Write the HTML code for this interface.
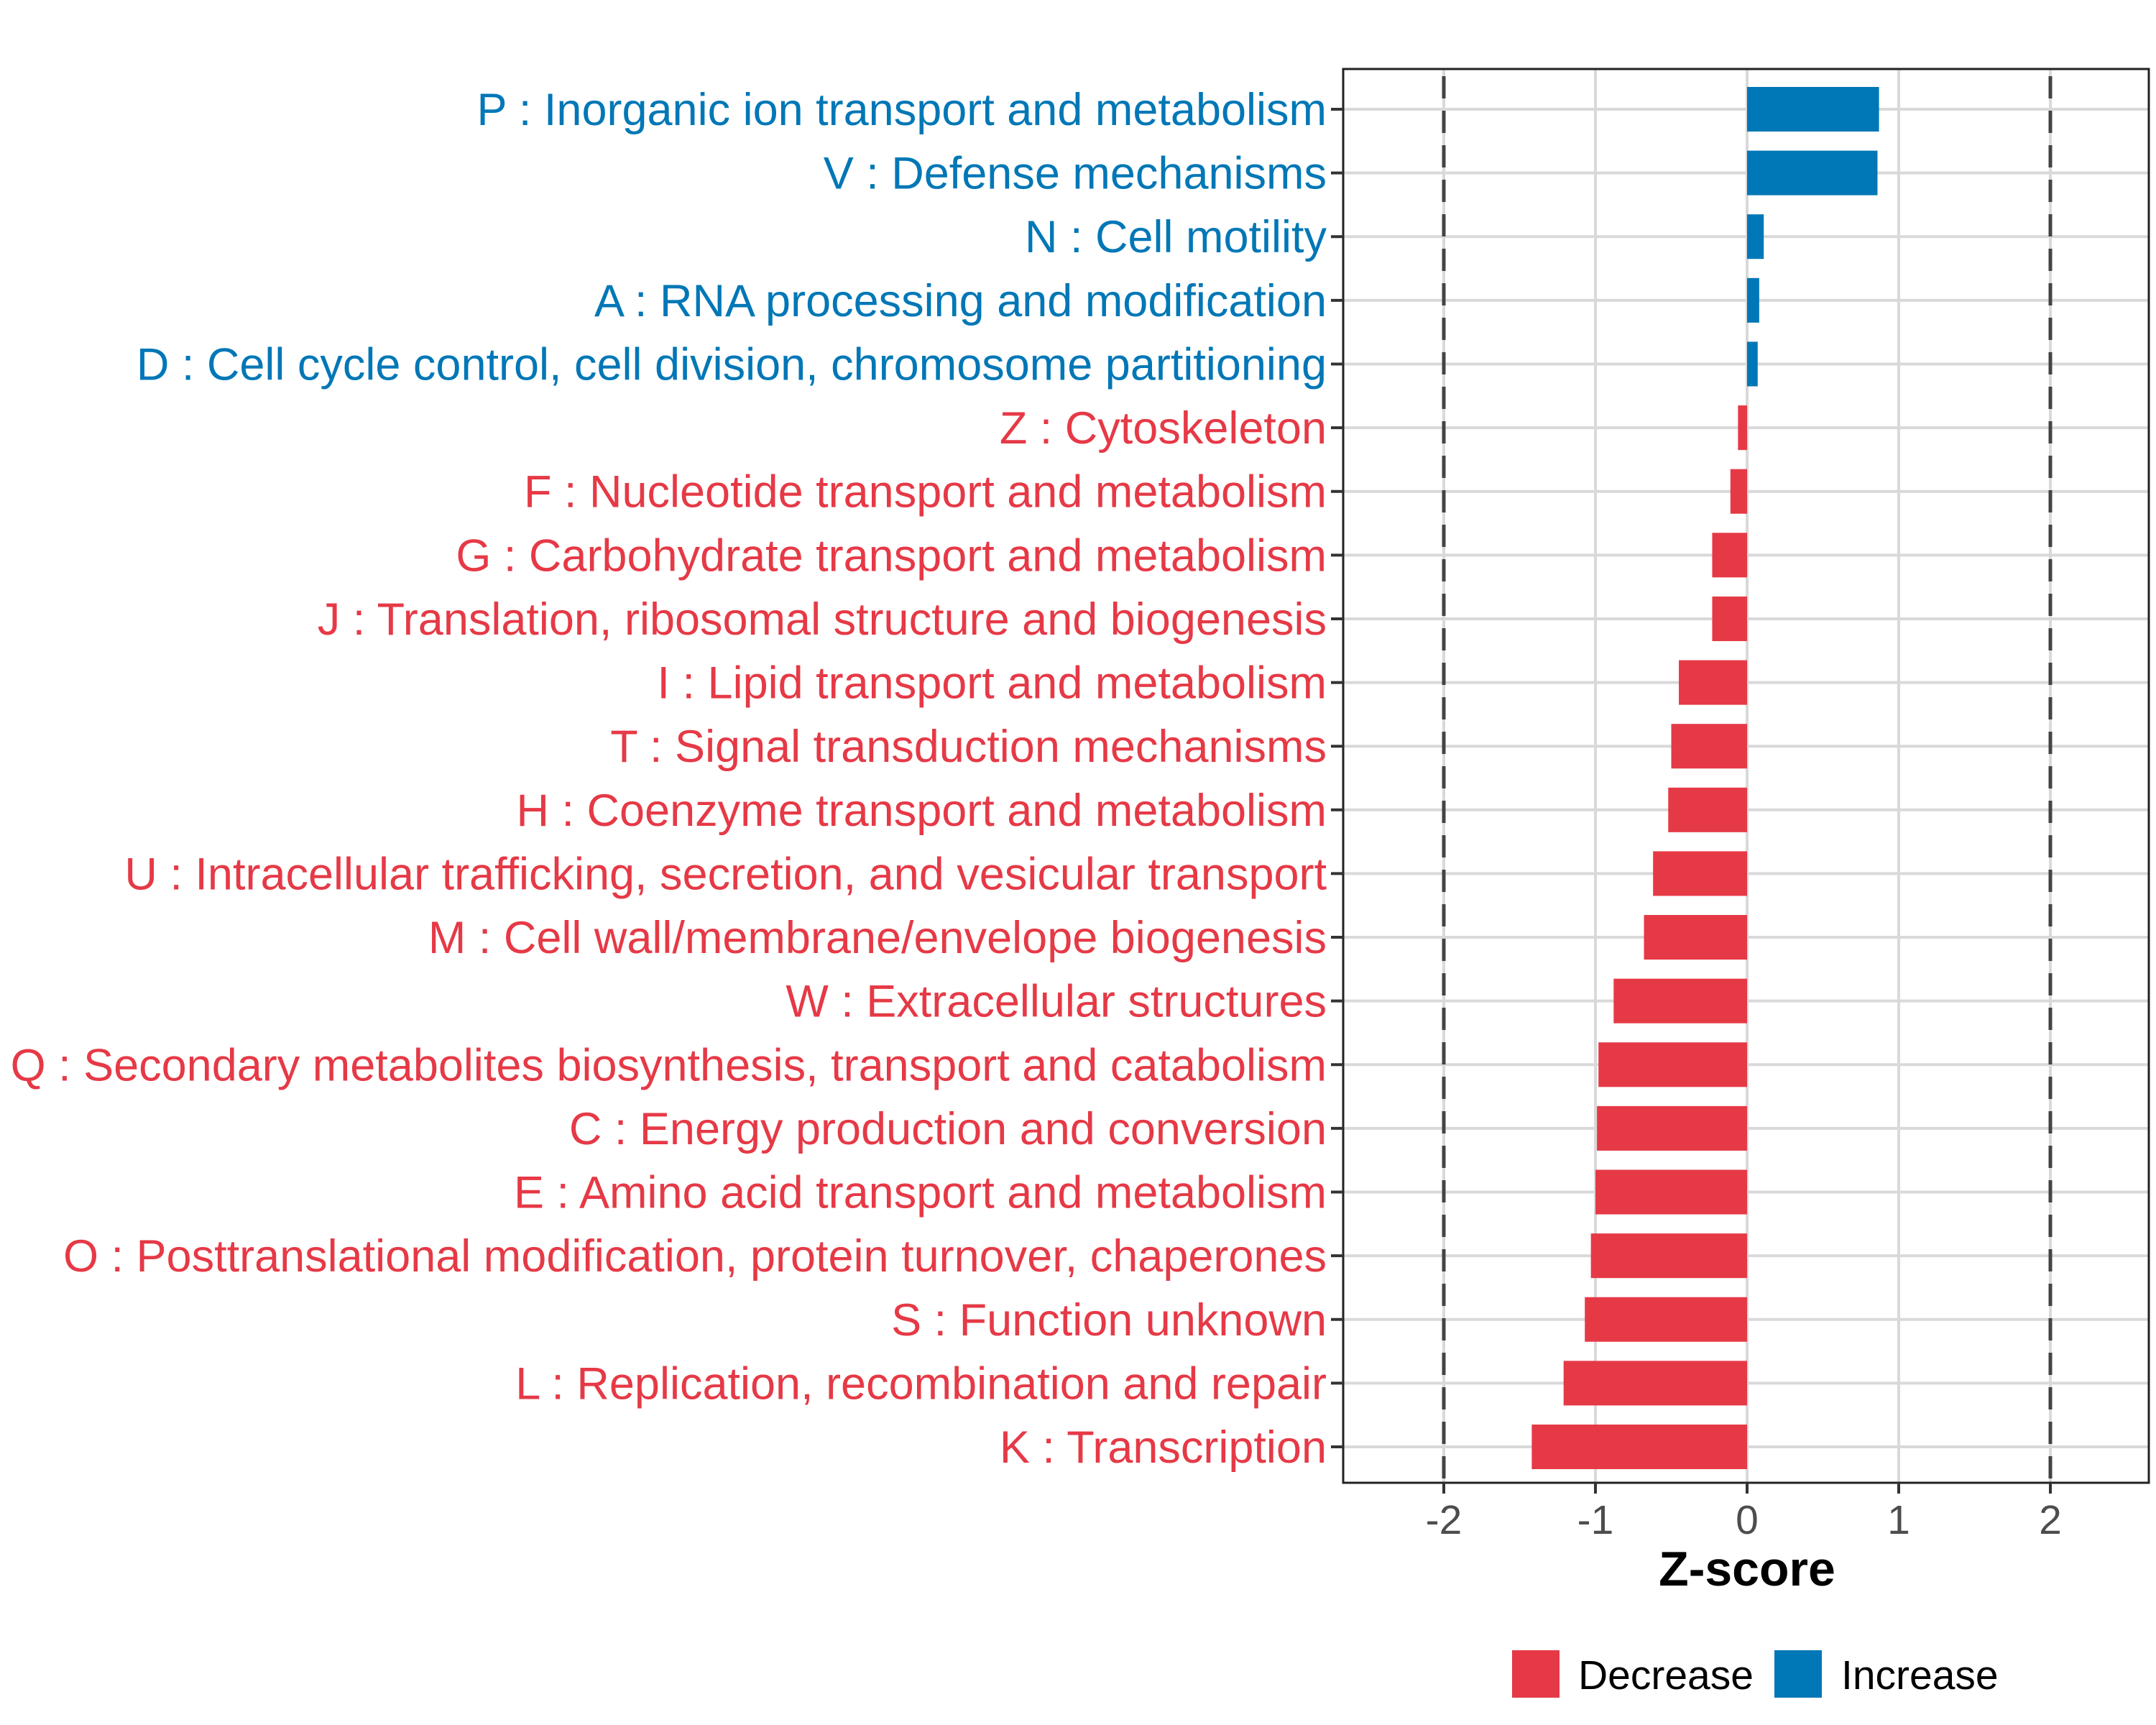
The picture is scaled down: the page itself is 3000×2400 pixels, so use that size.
<!DOCTYPE html>
<html><head><meta charset="utf-8"><style>
html,body{margin:0;padding:0;background:#fff;}
svg{display:block;font-family:"Liberation Sans",Arial,sans-serif;}
</style></head><body>
<svg id="chart" width="3000" height="2400" viewBox="0 0 3000 2400" xmlns="http://www.w3.org/2000/svg">
<rect width="3000" height="2400" fill="#fff"/>
<g id="grid"></g>
<g id="bars"></g>
<g id="refs"></g>
<rect x="1869" y="96" width="1121" height="1967" fill="none" stroke="#222" stroke-width="3"/>
<g id="ylabels"></g>
<g id="xaxis"></g>
<text x="2431" y="2206" font-size="68" font-weight="bold" text-anchor="middle" fill="#000">Z-score</text>
<g>
<rect x="2104" y="2296" width="66" height="66" fill="#E63946"/>
<text x="2196" y="2350" font-size="57" fill="#000">Decrease</text>
<rect x="2469" y="2296" width="66" height="66" fill="#0077B6"/>
<text x="2562" y="2350" font-size="57" fill="#000">Increase</text>
</g>
</svg>
<script>
const categories = [
"P : Inorganic ion transport and metabolism",
"V : Defense mechanisms",
"N : Cell motility",
"A : RNA processing and modification",
"D : Cell cycle control, cell division, chromosome partitioning",
"Z : Cytoskeleton",
"F : Nucleotide transport and metabolism",
"G : Carbohydrate transport and metabolism",
"J : Translation, ribosomal structure and biogenesis",
"I : Lipid transport and metabolism",
"T : Signal transduction mechanisms",
"H : Coenzyme transport and metabolism",
"U : Intracellular trafficking, secretion, and vesicular transport",
"M : Cell wall/membrane/envelope biogenesis",
"W : Extracellular structures",
"Q : Secondary metabolites biosynthesis, transport and catabolism",
"C : Energy production and conversion",
"E : Amino acid transport and metabolism",
"O : Posttranslational modification, protein turnover, chaperones",
"S : Function unknown",
"L : Replication, recombination and repair",
"K : Transcription"];
const zscores = [0.87,0.86,0.11,0.08,0.07,-0.06,-0.11,-0.23,-0.23,-0.45,-0.50,-0.52,-0.62,-0.68,-0.88,-0.98,-0.99,-1.00,-1.03,-1.07,-1.21,-1.42];
const xTicks = [-2,-1,0,1,2];
const xTickLabels = ["-2","-1","0","1","2"];
const refValues = [-2,2];

const NS="http://www.w3.org/2000/svg";
const X0=2431, XU=211, Y0=152, DY=(2013-152)/21, PL=1869, PR=2990, PT=96, PB=2063;
const xs=v=>X0+v*XU, ys=i=>Y0+i*DY;
function mk(tag,attrs,parent){const e=document.createElementNS(NS,tag);for(const k in attrs)e.setAttribute(k,attrs[k]);parent.appendChild(e);return e;}
const grid=document.getElementById('grid'),bars=document.getElementById('bars'),refs=document.getElementById('refs'),yl=document.getElementById('ylabels'),xa=document.getElementById('xaxis');
categories.forEach((c,i)=>{
  const g=mk('line',{x1:PL,x2:PR,y1:ys(i),y2:ys(i),stroke:'#d9d9d9','stroke-width':4},grid);
  
  
});
xTicks.forEach(t=>{
  const g=mk('line',{x1:xs(t),x2:xs(t),y1:PT,y2:PB,stroke:'#d9d9d9','stroke-width':4},grid);
  
  
});
const bh=DY*0.7;
zscores.forEach((v,i)=>{
  const col=v>=0?'#0077B6':'#E63946';
  const r=mk('rect',{x:Math.min(xs(v),xs(0)),y:ys(i)-bh/2,width:Math.abs(xs(v)-xs(0)),height:bh,fill:col},bars);
  
  
  const t=mk('text',{x:1846,y:ys(i)+22,'font-size':63,'text-anchor':'end',fill:col},yl);
  t.textContent=categories[i];
  
  
  const tk=mk('line',{x1:1852,x2:PL,y1:ys(i),y2:ys(i),stroke:'#333','stroke-width':4},yl);
  
  
});
refValues.forEach(v=>{
  const l=mk('line',{x1:xs(v),x2:xs(v),y1:PT,y2:PB,stroke:'#444','stroke-width':5,'stroke-dasharray':'31 17','stroke-dashoffset':-10},refs);
  
  
});
xTicks.forEach((t,i)=>{
  const tk=mk('line',{x1:xs(t),x2:xs(t),y1:PB,y2:PB+15,stroke:'#333','stroke-width':4},xa);
  
  
  const lb=mk('text',{x:xs(t),y:2134,'font-size':57,'text-anchor':'middle',fill:'#4d4d4d'},xa);
  lb.textContent=xTickLabels[i];
  
  
});
</script>
</body></html>
